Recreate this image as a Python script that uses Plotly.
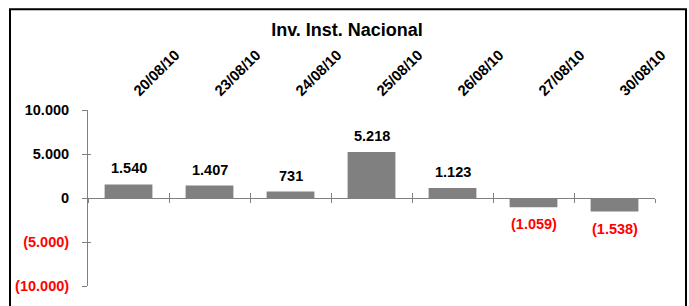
import plotly.graph_objects as go

# ---- data ----
dates = ["20/08/10", "23/08/10", "24/08/10", "25/08/10", "26/08/10", "27/08/10", "30/08/10"]
values = [1540, 1407, 731, 5218, 1123, -1059, -1538]
y_ticks = [-10000, -5000, 0, 5000, 10000]
title_text = "Inv. Inst. Nacional"


def fmt(v):
    s = f"{abs(v):,}".replace(",", ".")
    return f"({s})" if v < 0 else s


def tick_label(v):
    s = fmt(v)
    return f'<span style="color:#FF0000">{s}</span>' if v < 0 else s


FONT = "Liberation Sans, Arial, sans-serif"
GRAY = "#808080"

# plot area in pixels (within 689x306)
W, H = 689, 306
L, R, T, B = 88, 34, 110, 18
pw, ph = W - L - R, H - T - B


def px_x(p):
    return (p - L) / pw


def px_y(p):
    return (H - B - p) / ph


fig = go.Figure()
fig.add_trace(go.Bar(
    x=dates, y=values, width=0.59,
    marker=dict(color=GRAY, line=dict(width=0)),
    hoverinfo="x+y", showlegend=False,
))

n = len(dates)
bounds = [i - 0.5 for i in range(n + 1)]
# helper traces so the overlay axes are drawn
fig.add_trace(go.Scatter(x=[bounds[0], bounds[-1]], y=[0, 0], xaxis="x2", yaxis="y2",
                         mode="lines", line=dict(width=0), hoverinfo="skip", showlegend=False))
fig.add_trace(go.Scatter(x=[bounds[0], bounds[-1]], y=[0, 0], xaxis="x3", yaxis="y2",
                         mode="lines", line=dict(width=0), hoverinfo="skip", showlegend=False))

# data labels
for d, v in zip(dates, values):
    fig.add_annotation(
        x=d, y=v, text=fmt(v), showarrow=False,
        yanchor="bottom" if v >= 0 else "top",
        yshift=6 if v >= 0 else -7,
        font=dict(family=FONT, size=14.5, weight="bold",
                  color="#000000" if v >= 0 else "#FF0000"),
    )

common_x = dict(range=[bounds[0], bounds[-1]], showgrid=False, zeroline=False, fixedrange=True)

fig.update_layout(
    width=W, height=H,
    margin=dict(l=L, r=R, t=T, b=B, pad=0),
    paper_bgcolor="white", plot_bgcolor="white",
    title=dict(text=title_text, x=px_x(347), xref="paper", xanchor="center",
               y=1 - 30 / H, yref="container", yanchor="middle",
               font=dict(family=FONT, size=18, weight="bold", color="#000000")),
    xaxis=dict(type="category", side="top", anchor="y", tickangle=-45,
               showline=False, ticks="", range=[bounds[0], bounds[-1]],
               showgrid=False, zeroline=False, ticklabelstandoff=7, ticklabelshift=6,
               tickfont=dict(family=FONT, size=14.8, weight="bold", color="#000000")),
    xaxis2=dict(overlaying="x", anchor="free", position=0.5, side="bottom",
                tickvals=bounds, showticklabels=False, showline=True, linecolor=GRAY,
                linewidth=1, ticks="outside", ticklen=4, tickcolor=GRAY, **common_x),
    xaxis3=dict(overlaying="x", anchor="free", position=0.5, side="bottom",
                tickvals=bounds, showticklabels=False, showline=False,
                ticks="inside", ticklen=5, tickcolor=GRAY, **common_x),
    yaxis=dict(range=[-10000, 10000], tickvals=y_ticks,
               ticktext=[tick_label(v) for v in y_ticks],
               showline=True, linecolor=GRAY, linewidth=1,
               ticks="outside", ticklen=5, tickcolor=GRAY,
               showgrid=False, zeroline=False, ticklabelstandoff=10,
               tickfont=dict(family=FONT, size=14.5, weight="bold", color="#000000")),
    yaxis2=dict(overlaying="y", range=[-10000, 10000], tickvals=y_ticks,
                showticklabels=False, showline=False, ticks="inside", ticklen=3,
                tickcolor=GRAY, showgrid=False, zeroline=False, anchor="x"),
    shapes=[dict(type="rect", xref="paper", yref="paper",
                 x0=px_x(10), x1=px_x(686), y0=px_y(312), y1=px_y(8),
                 line=dict(color="#000000", width=2), fillcolor="rgba(0,0,0,0)",
                 layer="below")],
    bargap=0.4,
)

fig.write_html("out.html", config={"displayModeBar": False},
               post_script="document.body.style.margin='0';")
